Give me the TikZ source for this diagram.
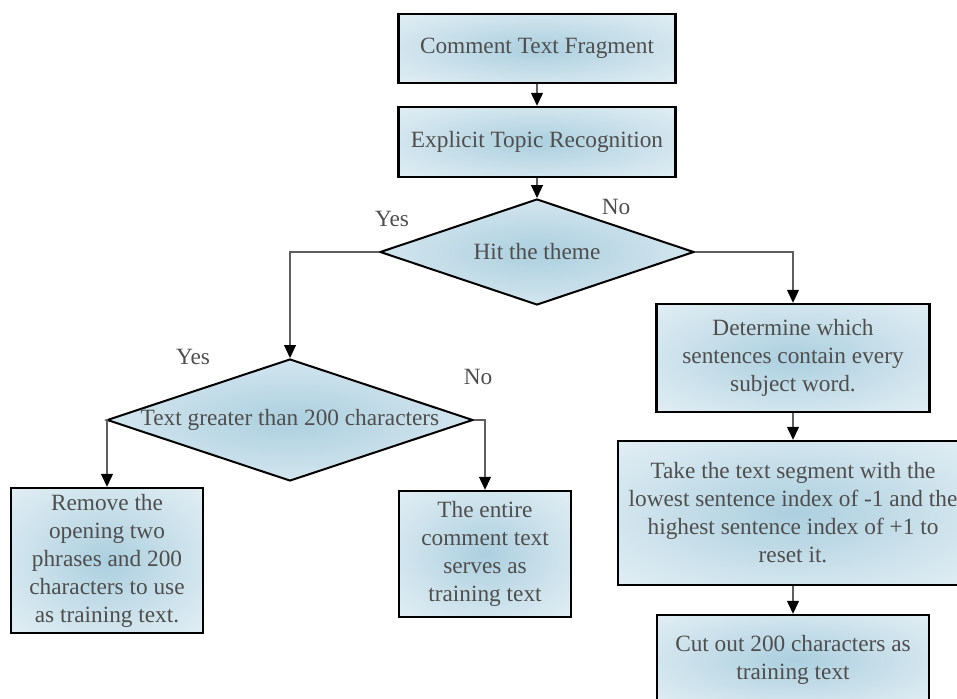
\documentclass[tikz,border=0pt]{standalone}
\usepackage{fontspec}
\setmainfont{Liberation Serif}
\usetikzlibrary{arrows.meta,shapes.geometric}

\definecolor{shadeblue}{RGB}{172,207,223}
\colorlet{shademid}{shadeblue!55!white}
\colorlet{shadeedge}{shadeblue!10!white}
\definecolor{txtgray}{RGB}{78,78,78}
\definecolor{linegray}{RGB}{95,95,95}

% soft blue spot fading to near white at the border
\pgfdeclareradialshading{softblue}{\pgfpoint{0bp}{0bp}}{%
  color(0bp)=(shadeblue); color(24bp)=(shademid); color(50bp)=(shadeedge)}

\tikzset{
  flowfont/.style={font=\fontsize{23.3}{28}\selectfont, text=txtgray},
  procbox/.style={rectangle, draw=black, line width=2.4pt, shade, shading=softblue,
    align=center, inner sep=0pt, flowfont},
  decision/.style={diamond, draw=black, line width=2pt, shade, shading=softblue,
    inner sep=0pt},
  conn/.style={draw=linegray, line width=1.2pt,
    -{Triangle[width=12pt,length=13pt,color=black]}},
  branch/.style={flowfont},
}

\begin{document}
\begin{tikzpicture}[x=1pt, y=-1pt]
  \useasboundingbox (0,0) rectangle (957,698);
  \clip (0,0) rectangle (957,698);

  % main column
  \node[procbox, minimum width=277pt, minimum height=69pt] (frag) at (537,48.5) {Comment Text Fragment};
  \node[procbox, minimum width=277pt, minimum height=70pt] (topic) at (537,142) {Explicit Topic Recognition};

  % first decision
  \node[decision, minimum width=314pt, minimum height=106pt] (hit) at (537,252) {};
  \node[flowfont] (hittxt) at (hit) {Hit the theme};

  % second decision
  \node[decision, minimum width=366pt, minimum height=122pt] (len) at (290,420) {};
  \node[flowfont] (lentxt) at (len) {Text greater than 200 characters};

  % left leaves
  \node[procbox, minimum width=192pt, minimum height=145pt] (remove) at (107,560.5)
    {Remove the\\opening two\\phrases and 200\\characters to use\\as training text.};
  \node[procbox, minimum width=172pt, minimum height=126pt] (entire) at (485,554)
    {The entire\\comment text\\serves as\\training text};

  % right column
  \node[procbox, minimum width=273pt, minimum height=108pt] (determine) at (793,358)
    {Determine which\\sentences contain every\\subject word.};
  \node[procbox, minimum width=350pt, minimum height=144pt] (take) at (793,513)
    {Take the text segment with the\\lowest sentence index of -1 and the\\highest sentence index of +1 to\\reset it.};
  \node[procbox, minimum width=272pt, minimum height=90pt] (cut) at (793,660)
    {Cut out 200 characters as\\training text};

  % connectors
  \draw[conn] (frag) -- (topic);
  \draw[conn] (topic) -- (hit.north);
  \draw[conn] (hit.west) -| (len.north);
  \draw[conn] (hit.east) -| (determine.north);
  \draw[conn] (len.west) -| (remove.north);
  \draw[conn] (len.east) -| (entire.north);
  \draw[conn] (determine) -- (take);
  \draw[conn] (take) -- (cut);

  % branch labels
  \node[branch] (yes1) at (392,219) {Yes};
  \node[branch] (no1) at (616,207) {No};
  \node[branch] (yes2) at (193,357) {Yes};
  \node[branch] (no2) at (478,377) {No};
\end{tikzpicture}
\end{document}
